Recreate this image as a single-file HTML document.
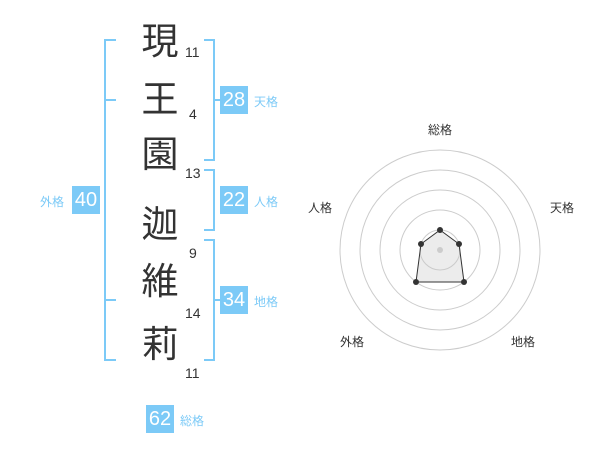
<!DOCTYPE html><html><head><meta charset="utf-8"><style>
body{margin:0;width:600px;height:470px;background:#fff;position:relative;font-family:"Liberation Sans","Noto Sans CJK JP",sans-serif;overflow:hidden}
.c{position:absolute;left:140px;width:40px;text-align:center;font-size:37px;line-height:40px;color:#333}
.n{position:absolute;font-size:14px;color:#333;line-height:14px}
.b{position:absolute;width:28px;height:28px;background:#7ccaf7;color:#fff;font-size:20px;line-height:28px;text-align:center}
.l{position:absolute;font-size:12px;color:#7ccaf7;line-height:14px}
.r{position:absolute;font-size:12px;color:#333;line-height:14px}
</style></head><body>
<svg width="600" height="470" style="position:absolute;left:0;top:0">
<g stroke="#7ccaf7" stroke-width="2" fill="none">
<path d="M116 40H105V360H116M105 100H116M105 300H116"/>
<path d="M204 40H214V160H204M214 100H220"/>
<path d="M204 170H214V230H204"/>
<path d="M204 240H214V360H204M214 300H220"/>
</g>
<g fill="none" stroke="#ccc" stroke-width="1">
<circle cx="440" cy="250" r="100"/><circle cx="440" cy="250" r="80"/><circle cx="440" cy="250" r="60"/><circle cx="440" cy="250" r="40"/><circle cx="440" cy="250" r="20"/>
</g>
<polygon points="440,230 459,244 464,282 416,282 421,244" fill="rgba(200,200,200,0.35)" stroke="#333" stroke-width="1"/>
<circle cx="440" cy="250" r="3" fill="#ccc"/>
<g fill="#333"><circle cx="440" cy="230" r="3"/><circle cx="459" cy="244" r="3"/><circle cx="464" cy="282" r="3"/><circle cx="416" cy="282" r="3"/><circle cx="421" cy="244" r="3"/></g>
</svg>
<div class="c" style="top:22px">現</div><div class="n" style="left:185px;top:45px">11</div>
<div class="c" style="top:80px">王</div><div class="n" style="left:189px;top:107px">4</div>
<div class="c" style="top:135px">園</div><div class="n" style="left:185px;top:166px">13</div>
<div class="c" style="top:205px">迦</div><div class="n" style="left:189px;top:246px">9</div>
<div class="c" style="top:262px">維</div><div class="n" style="left:185px;top:306px">14</div>
<div class="c" style="top:325px">莉</div><div class="n" style="left:185px;top:366px">11</div>
<div class="b" style="left:220px;top:86px">28</div><div class="l" style="left:254px;top:95px">天格</div>
<div class="b" style="left:220px;top:186px">22</div><div class="l" style="left:254px;top:195px">人格</div>
<div class="b" style="left:220px;top:286px">34</div><div class="l" style="left:254px;top:295px">地格</div>
<div class="b" style="left:72px;top:186px">40</div><div class="l" style="left:40px;top:195px">外格</div>
<div class="b" style="left:146px;top:405px">62</div><div class="l" style="left:180px;top:414px">総格</div>
<div class="r" style="left:428px;top:123px">総格</div>
<div class="r" style="left:550px;top:201px">天格</div>
<div class="r" style="left:308px;top:201px">人格</div>
<div class="r" style="left:340px;top:335px">外格</div>
<div class="r" style="left:511px;top:335px">地格</div>
</body></html>
